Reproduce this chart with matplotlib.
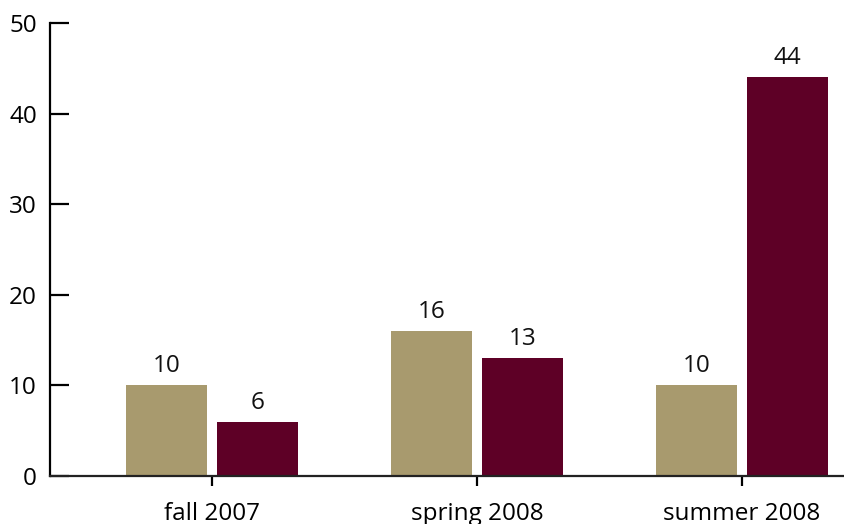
import matplotlib
matplotlib.use("Agg")
import matplotlib.pyplot as plt
import numpy as np

categories = ["fall 2007", "spring 2008", "summer 2008"]
series_a = [10, 16, 10]
series_b = [6, 13, 44]
yticks = [0, 10, 20, 30, 40, 50]

color_a = "#A89A6E"
color_b = "#5E0026"

plt.rcParams['font.family'] = ['Open Sans', 'DejaVu Sans']

fig = plt.figure(figsize=(8.44, 5.24), dpi=100)
ax = fig.add_axes([50/844, 1-476/524, 1-50/844, (476-23)/524])

x = np.arange(len(categories))
w = 0.306
off = 0.172
ba = ax.bar(x - off, series_a, width=w, color=color_a)
bb = ax.bar(x + off, series_b, width=w, color=color_b)

for bars, vals in ((ba, series_a), (bb, series_b)):
    for r, v in zip(bars, vals):
        ax.annotate(str(v), (r.get_x() + r.get_width()/2, r.get_height()),
                    xytext=(0, 7), textcoords='offset pixels',
                    ha='center', va='bottom', fontsize=17.5, color='#111111')

ax.set_xlim(-0.611, 2.385)
ax.set_ylim(0, 50)
ax.set_yticks(yticks)
ax.set_xticks(x)
ax.set_xticklabels(categories)

for s in ('top', 'right'):
    ax.spines[s].set_visible(False)
ax.spines['left'].set_linewidth(1.6)
ax.spines['bottom'].set_linewidth(1.6)
ax.spines['bottom'].set_color('#222222')

ax.tick_params(axis='y', direction='in', length=14, width=1.6, pad=9.5, labelsize=17.5)
ax.tick_params(axis='x', direction='out', length=7, width=1.6, pad=12, labelsize=17.5)

fig.savefig("out.png", dpi=100)
